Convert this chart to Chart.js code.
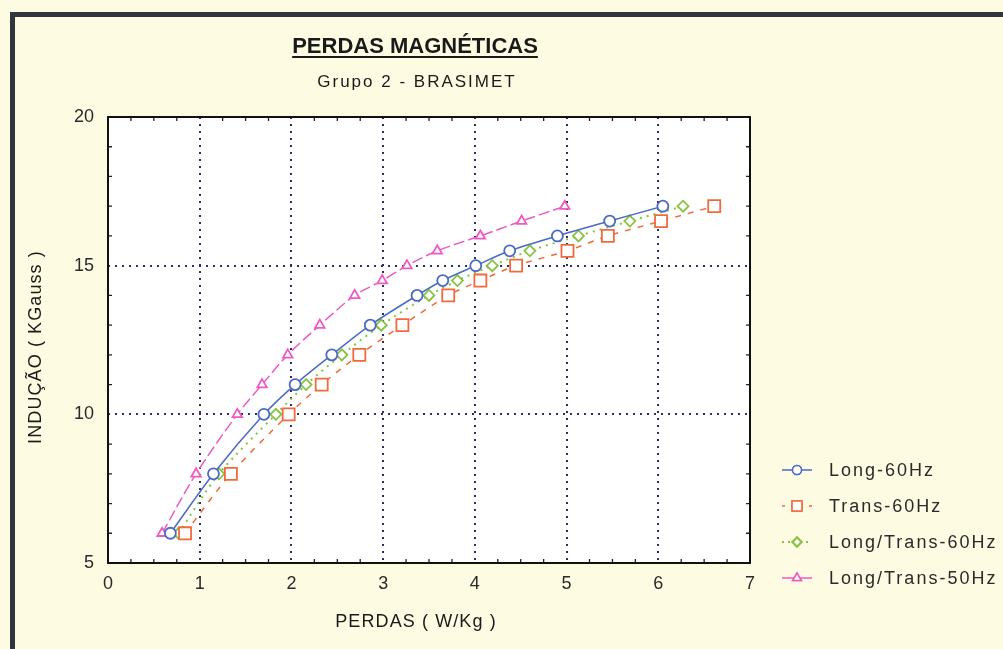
<!DOCTYPE html>
<html>
<head>
<meta charset="utf-8">
<title>Perdas magnéticas</title>
<script src="https://cdn.jsdelivr.net/npm/chart.js"></script>
<style>
  body { margin: 0; background: #fdfbe2; }
  canvas { display: block; }
</style>
</head>
<body>
<canvas id="grafico" width="1003" height="649"></canvas>
<script>
// valores (Indução em KGauss x Perdas em W/Kg)
const inducao = [6, 8, 10, 11, 12, 13, 14, 14.5, 15, 15.5, 16, 16.5, 17];
const perdasLong60 = [0.68, 1.15, 1.70, 2.04, 2.44, 2.86, 3.37, 3.65, 4.01, 4.38, 4.90, 5.47, 6.05];
const perdasTrans60 = [0.84, 1.34, 1.97, 2.33, 2.74, 3.21, 3.71, 4.06, 4.45, 5.01, 5.45, 6.03, 6.61];
const perdasLT60 = [0.77, 1.21, 1.83, 2.16, 2.55, 2.98, 3.50, 3.81, 4.19, 4.60, 5.13, 5.69, 6.27];
const perdasLT50 = [0.59, 0.96, 1.41, 1.68, 1.96, 2.31, 2.69, 2.99, 3.26, 3.59, 4.06, 4.51, 4.98];

const nomesSeries = ['Long-60Hz', 'Trans-60Hz', 'Long/Trans-60Hz', 'Long/Trans-50Hz'];
const ticksX = [0, 1, 2, 3, 4, 5, 6, 7];
const ticksY = [5, 10, 15, 20];

const titulo = 'PERDAS MAGNÉTICAS';
const subtitulo = 'Grupo 2 - BRASIMET';
const tituloX = 'PERDAS ( W/Kg )';
const tituloY = 'INDUÇÃO ( KGauss )';

const fonte = "'Liberation Sans', Arial, sans-serif";

function pontos(xs) {
    let arr = [];
    for (let i = 0; i < xs.length; i++) {
        arr.push({x: xs[i], y: inducao[i]});
    }
    return arr;
}

const estilos = [
    {cor: '#4a6ac4', dash: [], ponto: 'circle', raio: 5.5, raioLeg: 4.5},
    {cor: '#f26a3c', dash: [6, 7], ponto: 'rect', raio: 8.5, raioLeg: 7},
    {cor: '#86c440', dash: [2, 5], ponto: 'rectRot', raio: 5.5, raioLeg: 4.5},
    {cor: '#ee5ac4', dash: [11, 4], ponto: 'triangle', raio: 5.5, raioLeg: 5}
];
const valores = [perdasLong60, perdasTrans60, perdasLT60, perdasLT50];

function criaDatasets() {
    let ds = [];
    for (let i = 0; i < valores.length; i++) {
        const e = estilos[i];
        ds.push({
            label: nomesSeries[i],
            data: pontos(valores[i]),
            showLine: true,
            borderColor: e.cor,
            borderWidth: i == 2 ? 2 : 1.5,
            borderDash: e.dash,
            tension: 0.3,
            pointStyle: e.ponto,
            pointRadius: e.raio,
            pointBorderWidth: 1.8,
            pointBorderColor: e.cor,
            pointBackgroundColor: '#ffffff',
            order: i
        });
    }
    return ds;
}

// fundo, moldura, títulos, marcas menores e legenda
const desenhos = {
    id: 'desenhos',
    beforeDraw(chart) {
        const ctx = chart.ctx;
        const a = chart.chartArea;
        ctx.save();
        ctx.fillStyle = '#fdfbe2';
        ctx.fillRect(0, 0, chart.width, chart.height);
        ctx.fillStyle = '#30363b';
        ctx.fillRect(10, 12, chart.width - 10, 5);
        ctx.fillRect(10, 12, 5, chart.height - 12);
        ctx.fillStyle = '#ffffff';
        ctx.fillRect(a.left, a.top, a.right - a.left, a.bottom - a.top);
        ctx.restore();
    },
    afterDraw(chart) {
        const ctx = chart.ctx;
        const a = chart.chartArea;
        const sx = chart.scales.x;
        const sy = chart.scales.y;
        ctx.save();

        // marcas menores para dentro
        ctx.strokeStyle = '#222';
        ctx.lineWidth = 1.3;
        ctx.beginPath();
        for (let v = 0.25; v < 7; v += 0.25) {
            if (Math.abs(v - Math.round(v)) < 0.01) continue;
            const px = sx.getPixelForValue(v);
            ctx.moveTo(px, a.bottom); ctx.lineTo(px, a.bottom - 4);
            ctx.moveTo(px, a.top); ctx.lineTo(px, a.top + 4);
        }
        for (let v = 6; v < 20; v++) {
            if (v % 5 == 0) continue;
            const py = sy.getPixelForValue(v);
            ctx.moveTo(a.left, py); ctx.lineTo(a.left + 4, py);
            ctx.moveTo(a.right, py); ctx.lineTo(a.right - 4, py);
        }
        ctx.stroke();

        // moldura da área do gráfico
        ctx.lineWidth = 2;
        ctx.strokeStyle = '#111';
        ctx.strokeRect(a.left, a.top, a.right - a.left, a.bottom - a.top);

        // título sublinhado
        ctx.fillStyle = '#1a1a1a';
        ctx.textAlign = 'center';
        ctx.textBaseline = 'alphabetic';
        ctx.font = 'bold 22px ' + fonte;
        ctx.fillText(titulo, 415, 53);
        const w = ctx.measureText(titulo).width;
        ctx.fillRect(415 - w / 2, 56, w, 2);

        ctx.font = '17px ' + fonte;
        ctx.letterSpacing = '2px';
        ctx.fillText(subtitulo, 417, 87);

        // títulos dos eixos
        ctx.font = '18px ' + fonte;
        ctx.letterSpacing = '1.1px';
        ctx.textBaseline = 'middle';
        ctx.fillText(tituloX, 416, 622);
        ctx.save();
        ctx.translate(36, 347);
        ctx.rotate(-Math.PI / 2);
        ctx.fillText(tituloY, 0, 0);
        ctx.restore();

        // legenda
        ctx.textAlign = 'left';
        ctx.font = '18px ' + fonte;
        ctx.letterSpacing = '2px';
        for (let i = 0; i < nomesSeries.length; i++) {
            const e = estilos[i];
            const y = 470 + i * 36;
            ctx.strokeStyle = e.cor;
            ctx.lineWidth = i == 2 ? 2 : 1.5;
            ctx.setLineDash(i == 1 ? [3, 6] : (i == 2 ? [2, 4] : []));
            ctx.beginPath();
            ctx.moveTo(782, y); ctx.lineTo(812, y);
            ctx.stroke();
            ctx.setLineDash([]);
            ctx.fillStyle = '#ffffff';
            Chart.helpers.drawPoint(ctx, {pointStyle: e.ponto, radius: e.raioLeg, rotation: 0, borderWidth: 1.8}, 797, y);
            ctx.fill();
            ctx.stroke();
            ctx.fillStyle = '#2a2a2a';
            ctx.fillText(nomesSeries[i], 829, y + 1);
        }
        ctx.restore();
    }
};

const gridDash = {
    color: '#2e2d66',
    lineWidth: 2,
    drawTicks: false
};

new Chart(document.getElementById('grafico'), {
    type: 'scatter',
    data: { datasets: criaDatasets() },
    options: {
        responsive: false,
        animation: false,
        devicePixelRatio: 1,
        layout: { padding: { top: 117, left: 0, right: 253, bottom: 0 } },
        plugins: {
            legend: { display: false },
            tooltip: { enabled: false }
        },
        scales: {
            x: {
                type: 'linear',
                min: 0, max: 7,
                afterBuildTicks: function (s) { s.ticks = ticksX.map(v => ({value: v})); },
                afterFit: function (s) { s.height = 86; },
                grid: gridDash,
                border: { display: false, dash: [2, 5] },
                ticks: { padding: 10, color: '#2a2a2a', font: { family: fonte, size: 18 } }
            },
            y: {
                type: 'linear',
                min: 5, max: 20,
                afterBuildTicks: function (s) { s.ticks = ticksY.map(v => ({value: v})); },
                afterFit: function (s) { s.width = 108; },
                grid: gridDash,
                border: { display: false, dash: [2, 5] },
                ticks: { padding: 14, color: '#2a2a2a', font: { family: fonte, size: 18 } }
            }
        }
    },
    plugins: [desenhos]
});
</script>
</body>
</html>
